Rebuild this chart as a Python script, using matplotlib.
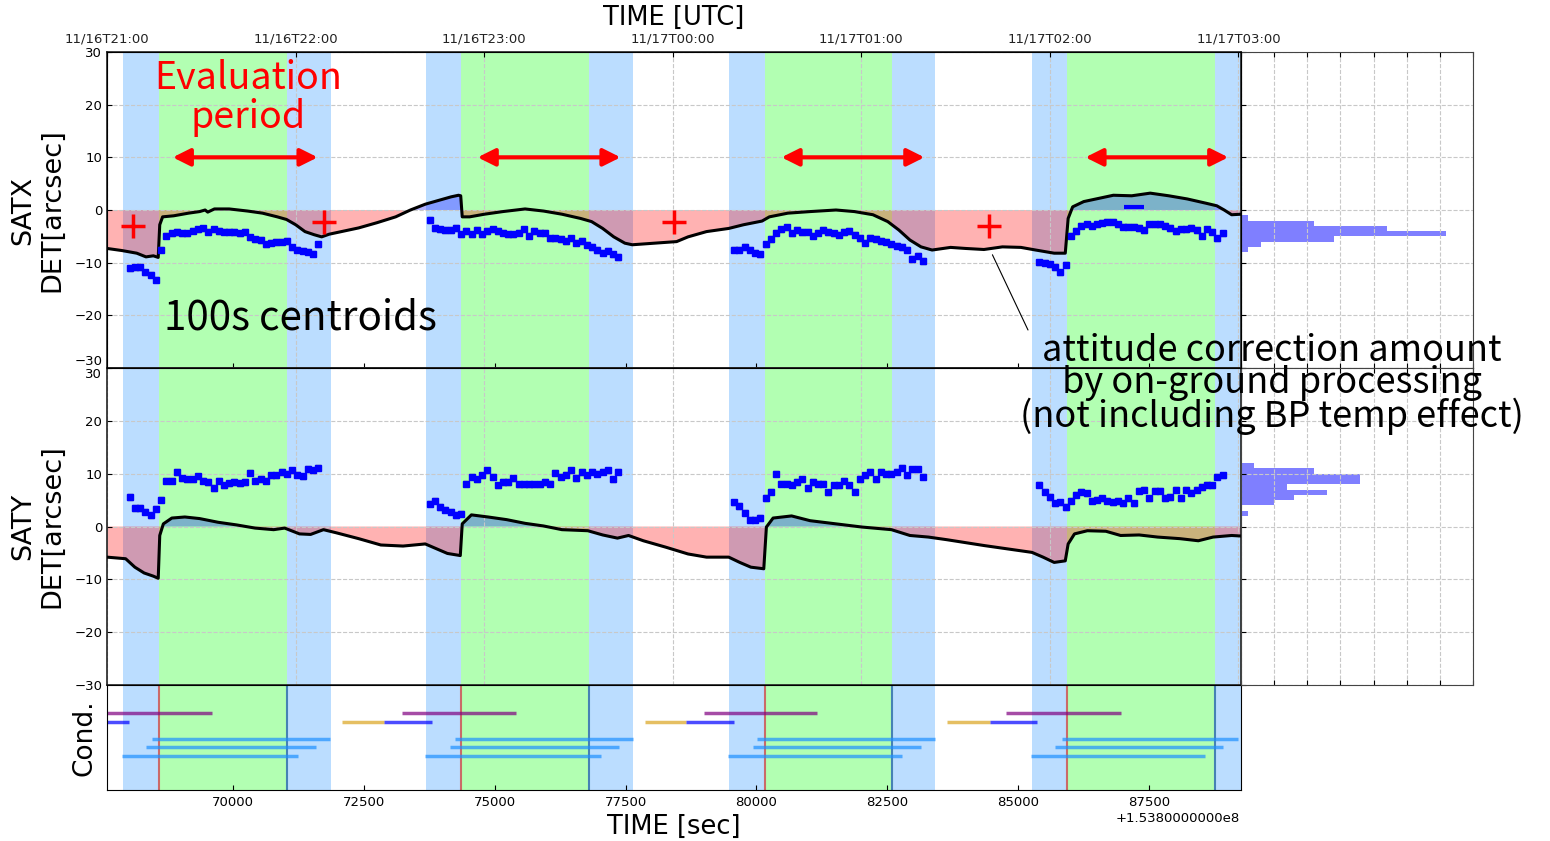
import numpy as np
import matplotlib.pyplot as plt

plt.rcParams['font.family'] = ['DejaVu Sans']
plt.rcParams['xtick.direction'] = 'in'
plt.rcParams['ytick.direction'] = 'in'
plt.rcParams['xtick.labelsize'] = 9.5
plt.rcParams['ytick.labelsize'] = 9.5

# Times are seconds after 1.538e8 (offset shown under the axis).
XLIM = (67600, 89250)

# UTC hour ticks on the top axis (11/16T21:00 = 67600 s).
utc_ticks = [67600, 71200, 74800, 78400, 82000, 85600, 89200]
utc_labels = ['11/16T21:00', '11/16T22:00', '11/16T23:00', '11/17T00:00',
              '11/17T01:00', '11/17T02:00', '11/17T03:00']
sec_ticks = [70000, 72500, 75000, 77500, 80000, 82500, 85000, 87500]

# Visibility windows: blue = before/after, green = evaluation window
blue_start = [67901, 73683, 79466, 85267]
green_start = [68588, 74351, 80153, 85935]
green_end = [71031, 76794, 82595, 88760]
blue_end = [71870, 77634, 83416, 89600]

# Attitude correction amount from on-ground processing
satx_t = [67600, 67886, 68168, 68344, 68485, 68578, 68607, 68662, 68874, 69156,
          69368, 69473, 69523, 69651, 69933, 70286, 70569, 70851, 71027, 71202,
          71380, 71557, 71698, 71840, 72122, 72405, 72758, 73111, 73393, 73676,
          73958, 74170, 74311, 74353, 74382, 74523, 74805, 75158, 75582, 75935,
          76286, 76639, 76851, 77063, 77275, 77487, 77628, 78051, 78475, 78693,
          79046, 79470, 79752, 80105, 80246, 80599, 81023, 81517, 81870, 82223,
          82506, 82718, 82929, 83141, 83353, 83706, 83989, 84342, 84695, 85048,
          85330, 85683, 85895, 85950, 86036, 86248, 86531, 86813, 87164, 87517,
          87870, 88223, 88576, 88788, 88929, 89071, 89250]
satx_v = [-7.3, -7.7, -8.2, -8.9, -8.7, -9.0, -2.8, -1.3, -1.1, -0.6,
          -0.3, 0.0, -0.4, 0.2, 0.2, -0.2, -0.6, -1.3, -1.8, -2.8,
          -4.1, -4.7, -5.1, -4.6, -4.0, -3.4, -2.4, -1.3, 0.0, 1.1,
          1.9, 2.5, 2.8, 2.7, -1.3, -1.3, -0.8, -0.3, 0.2, -0.2,
          -0.8, -1.6, -2.2, -3.5, -5.1, -6.3, -6.6, -6.3, -6.0, -5.1,
          -4.1, -3.5, -2.8, -2.1, -1.3, -0.6, -0.3, 0.0, -0.3, -0.9,
          -2.2, -3.8, -5.7, -7.0, -7.6, -7.1, -7.3, -7.5, -7.0, -7.1,
          -7.6, -8.2, -8.2, -1.6, 0.6, 1.6, 2.2, 2.8, 2.7, 3.2,
          2.7, 2.1, 1.3, 0.8, 0.0, -0.9, -0.8]

saty_t = [67600, 67956, 68132, 68309, 68485, 68578, 68607, 68676, 68838, 69086,
          69368, 69721, 70074, 70427, 70781, 70992, 71275, 71487, 71733, 71981,
          72405, 72828, 73252, 73676, 73887, 74099, 74345, 74382, 74557, 74876,
          75229, 75582, 75935, 76286, 76780, 77063, 77345, 77557, 77840, 78263,
          78693, 79046, 79470, 79681, 79893, 80139, 80189, 80317, 80670, 81023,
          81517, 82011, 82576, 82929, 83282, 83635, 84342, 85048, 85260, 85471,
          85683, 85895, 85950, 86071, 86317, 86670, 86952, 87305, 87658, 88082,
          88435, 88717, 89071, 89250]
saty_v = [-5.8, -6.1, -7.7, -8.8, -9.4, -9.8, -1.7, 0.5, 1.6, 1.8,
          1.5, 0.8, 0.3, -0.3, -0.6, -0.3, -1.4, -1.5, -0.6, -1.2,
          -2.3, -3.5, -3.7, -3.3, -4.2, -5.1, -5.5, 0.5, 2.2, 1.8,
          1.3, 0.6, 0.1, -0.6, -0.8, -1.6, -2.2, -1.7, -2.7, -3.9,
          -5.2, -5.8, -5.8, -6.8, -7.7, -8.0, -0.1, 1.6, 2.0, 1.1,
          0.5, -0.1, -0.6, -1.7, -2.0, -2.5, -3.6, -4.6, -4.9, -5.8,
          -6.8, -6.5, -3.3, -1.4, -0.8, -0.9, -1.7, -1.6, -2.0, -2.3,
          -2.7, -2.0, -1.7, -1.8]

# 100 s centroids, one list per visibility window
cen_start = [68034, 73760, 79574, 85401]
CEN_STEP = 100
CEN_ERR = 0.5
satx_cen = [
    [-11.1, -10.9, -10.8, -11.8, -12.3, -13.2, -7.5, -4.9, -4.4, -4.2, -4.4, -4.4, -3.9,
     -3.7, -3.5, -4.1, -3.7, -4.0, -4.1, -4.1, -4.2, -4.4, -4.1, -5.2, -5.6, -5.7, -6.5,
     -6.2, -6.1, -6.0, -5.9, -7.1, -7.5, -7.7, -7.9, -8.3, -6.5],
    [-1.9, -3.4, -3.7, -3.8, -3.8, -3.4, -4.6, -4.0, -4.6, -3.8, -4.6, -4.0, -3.7,
     -4.0, -4.3, -4.6, -4.6, -4.3, -3.7, -4.9, -4.0, -4.3, -4.3, -5.4, -5.4, -5.5, -5.9,
     -5.4, -6.2, -5.9, -6.6, -7.0, -7.6, -8.1, -7.7, -8.4, -8.9],
    [-7.5, -7.5, -7.0, -7.5, -8.1, -8.4, -6.5, -5.5, -4.3, -3.7, -3.3, -4.4, -3.8,
     -4.2, -4.1, -4.9, -4.3, -3.8, -4.2, -4.4, -4.7, -4.2, -4.0, -4.7, -5.3, -6.2, -5.3,
     -5.5, -5.9, -6.0, -6.5, -6.8, -7.0, -7.5, -9.3, -8.7, -9.7],
    [-9.9, -10.0, -10.3, -10.8, -11.8, -10.4, -4.9, -4.0, -3.0, -2.7, -3.0, -2.7, -2.4,
     -2.2, -2.2, -2.7, -3.2, -3.2, -3.2, -3.4, -3.8, -2.7, -2.7, -2.7, -3.0, -3.4, -4.0,
     -3.7, -3.7, -3.4, -3.8, -4.9, -3.7, -4.1, -5.4, -4.4],
]
saty_cen = [
    [5.6, 3.5, 3.5, 2.8, 2.1, 3.4, 5.1, 8.7, 8.7, 10.3, 9.1, 8.9, 8.9, 9.5, 8.7, 8.4,
     7.3, 8.7, 7.8, 8.2, 8.4, 8.2, 8.4, 10.2, 8.7, 9.0, 8.7, 9.7, 9.7, 10.3, 10.0, 10.6,
     9.8, 9.5, 10.9, 10.6, 11.1],
    [4.3, 4.9, 3.7, 3.2, 2.8, 2.2, 2.4, 8.1, 9.4, 8.9, 9.7, 10.6, 9.4, 7.8, 8.4, 8.4,
     9.1, 8.0, 8.0, 8.0, 8.0, 8.0, 8.4, 8.1, 10.2, 9.4, 9.8, 10.6, 9.2, 10.3, 9.7, 10.4,
     10.0, 10.4, 10.6, 8.9, 10.4],
    [4.6, 3.9, 2.6, 1.3, 1.3, 1.6, 5.4, 6.6, 10.0, 8.1, 8.1, 7.9, 8.4, 8.9, 7.2, 8.4,
     8.1, 8.1, 6.5, 7.8, 7.8, 8.7, 7.8, 6.6, 9.0, 9.7, 10.3, 8.9, 10.4, 10.0, 10.0, 10.4,
     11.1, 9.7, 10.8, 10.8, 9.4],
    [7.9, 6.6, 5.6, 4.4, 4.6, 3.7, 4.9, 6.0, 6.6, 6.3, 4.9, 5.1, 5.3, 4.9, 4.6, 4.8,
     4.4, 5.3, 4.4, 6.8, 7.0, 5.3, 6.8, 6.8, 5.4, 5.6, 7.0, 5.4, 7.0, 6.4, 7.0, 7.5,
     7.9, 7.8, 9.4, 9.7],
]

# Histograms of the centroids (1 arcsec bins, lower edges)
satx_hist_lo = [-8, -7, -6, -5, -4, -3, -2]
satx_hist_n = [1, 3, 14, 31, 22, 11, 1]
saty_hist_lo = [2, 3, 4, 5, 6, 7, 8, 9, 10, 11]
saty_hist_n = [1, 0, 5, 8, 13, 7, 18, 18, 11, 2]

# Evaluation period arrows and sign markers on SATX
arrow_t0 = [68855, 74676, 80477, 86279]
arrow_t1 = [71622, 77405, 83206, 89008]
ARROW_Y = 10
plus_t = [68092, 71737, 78416, 84447]
plus_v = [-3.0, -2.3, -2.3, -3.0]
minus_t = [87214]
minus_v = [0.6]

# Condition rows (level, colour, [(start, end), ...])
cond_rows = [
    (9, 'purple', [(67000, 69600), (73225, 75401), (78989, 81164), (84771, 86966)]),
    (8, 'goldenrod', [(72080, 72882), (77863, 78645), (83645, 84466)]),
    (8, 'blue', [(67000, 68015), (72882, 73798), (78645, 79580), (84466, 85363)]),
    (6, 'dodgerblue', [(68454, 71851), (74237, 77634), (80019, 83416), (85840, 89198)]),
    (5, 'dodgerblue', [(68340, 71584), (74141, 77366), (79924, 83149), (85706, 88912)]),
    (4, 'dodgerblue', [(67882, 71240), (73664, 77023), (79447, 82786), (85248, 88569)]),
]

W, H = 1550, 841
fig = plt.figure(figsize=(W / 100, H / 100), dpi=100)


def box(x0, y0, x1, y1):
    return [x0 / W, 1 - y1 / H, (x1 - x0) / W, (y1 - y0) / H]


ax1 = fig.add_axes(box(107, 52, 1241, 368))
ax2 = fig.add_axes(box(107, 368, 1241, 685), sharex=ax1)
ax3 = fig.add_axes(box(107, 685, 1241, 790), sharex=ax1)
h1 = fig.add_axes(box(1241, 52, 1473, 368), sharey=ax1)
h2 = fig.add_axes(box(1241, 368, 1473, 685), sharey=ax2)

grid_kw = dict(ls='--', color='#c8c8c8', lw=0.8)


def draw_windows(ax):
    for b0, g0, g1, b1 in zip(blue_start, green_start, green_end, blue_end):
        ax.axvspan(b0, g0, color='dodgerblue', alpha=0.3, lw=0)
        ax.axvspan(g0, g1, color='lime', alpha=0.3, lw=0)
        ax.axvspan(g1, b1, color='dodgerblue', alpha=0.3, lw=0)


for ax, t, v, cen in [(ax1, satx_t, satx_v, satx_cen), (ax2, saty_t, saty_v, saty_cen)]:
    draw_windows(ax)
    t = np.array(t)
    v = np.array(v)
    ax.fill_between(t, v, 0, where=v <= 0, interpolate=True, color='red', alpha=0.3, lw=0)
    ax.fill_between(t, v, 0, where=v >= 0, interpolate=True, color='blue', alpha=0.3, lw=0)
    ax.plot(t, v, color='k', lw=2.2, zorder=3)
    for t0, vals in zip(cen_start, cen):
        tt = t0 + CEN_STEP * np.arange(len(vals))
        ax.errorbar(tt, vals, yerr=CEN_ERR, fmt='s', color='blue', ms=4.5,
                    ecolor='gray', elinewidth=0.8, capsize=2, zorder=4)
    for ut in utc_ticks:
        ax.axvline(ut, zorder=1.5, **grid_kw)
    ax.grid(True, axis='y', **grid_kw)
    ax.set_ylim(-30, 30)
    ax.set_yticks([-30, -20, -10, 0, 10, 20, 30])
    ax.tick_params(axis='x', bottom=False, labelbottom=False)
    for s in ax.spines.values():
        s.set_color('#222222')
        s.set_linewidth(1.2)

ax1.set_xlim(*XLIM)

# the -30 / 30 labels meet at the panel boundary: keep them apart
ax1.get_yticklabels()[0].set_va('bottom')
ax2.get_yticklabels()[-1].set_va('top')

for a0, a1 in zip(arrow_t0, arrow_t1):
    ax1.annotate('', xy=(a1, ARROW_Y), xytext=(a0, ARROW_Y),
                 arrowprops=dict(arrowstyle='<|-|>', color='red', lw=3,
                                 mutation_scale=26, shrinkA=0, shrinkB=0), zorder=5)
ax1.plot(plus_t, plus_v, '+', color='red', ms=17, mew=2.5, zorder=5)
ax1.plot(minus_t, minus_v, '_', color='blue', ms=15, mew=3, zorder=5)

ax1.set_ylabel('SATX\nDET[arcsec]', fontsize=19.5, va='center', linespacing=1.2)
ax1.yaxis.set_label_coords(-0.061, 0.5)
ax2.set_ylabel('SATY\nDET[arcsec]', fontsize=19.5, va='center', linespacing=1.2)
ax2.yaxis.set_label_coords(-0.061, 0.5)

# UTC axis on top
top = ax1.twiny()
top.set_xlim(*XLIM)
top.set_xticks(utc_ticks)
top.set_xticklabels(utc_labels, fontsize=9.5, color='#222222')
top.tick_params(axis='x', pad=5)
top.set_xlabel('TIME [UTC]', fontsize=18.5, va='center')
top.xaxis.set_label_coords(0.5, 1.108)

# Condition panel
draw_windows(ax3)
for g0, g1 in zip(green_start, green_end):
    ax3.axvline(g0, color='indianred', lw=1.5, alpha=0.9)
    ax3.axvline(g1, color='steelblue', lw=1.5)
for level, col, segs in cond_rows:
    for s0, s1 in segs:
        ax3.plot([s0, s1], [level, level], color=col, lw=2.5, alpha=0.7,
                 solid_capstyle='butt')
ax3.set_ylim(0, 12.3)
ax3.set_yticks([])
ax3.set_xticks(sec_ticks)
ax3.tick_params(axis='x', labelbottom=True, bottom=True, pad=4)
ax3.set_ylabel('Cond.', fontsize=19, va='center')
ax3.yaxis.set_label_coords(-0.02, 0.5)
ax3.set_xlabel('TIME [sec]', fontsize=18.5, va='center')
ax3.xaxis.set_label_coords(0.5, -0.35)
ax3.set_xlim(*XLIM)
fig.text(1178 / W, 1 - 818 / H, '+1.5380000000e8', ha='center', va='center', fontsize=9.5)

# Centroid histograms
for h, lo, n in [(h1, satx_hist_lo, satx_hist_n), (h2, saty_hist_lo, saty_hist_n)]:
    h.barh(lo, n, height=1, align='edge', color='blue', alpha=0.5, lw=0)
    h.set_xlim(0, 35)
    h.set_xticks(range(0, 36, 5))
    h.grid(True, **grid_kw)
    h.tick_params(top=True, bottom=True, labelbottom=False, labelleft=False)
    for s in h.spines.values():
        s.set_color('#444444')

# Notes
jp = ['Noto Sans CJK JP', 'DejaVu Sans']
fig.text(248 / W, 1 - 98 / H, 'Evaluation\nperiod', color='red', fontsize=27,
         ha='center', va='center', family=jp, linespacing=1.0)
fig.text(300 / W, 1 - 318 / H, '100s centroids', color='k', fontsize=29,
         ha='center', va='center', family=jp)
fig.text(1272 / W, 1 - 384 / H,
         'attitude correction amount\nby on-ground processing\n(not including BP temp effect)',
         color='k', fontsize=26, ha='center', va='center', family=jp, linespacing=0.88)
ax1.annotate('', xy=(84504, -8.5), xycoords='data',
             xytext=(1028 / W, 1 - 330 / H), textcoords='figure fraction',
             arrowprops=dict(arrowstyle='-', color='k', lw=0.8, shrinkA=0, shrinkB=0))

fig.savefig('out.png', dpi=100)
